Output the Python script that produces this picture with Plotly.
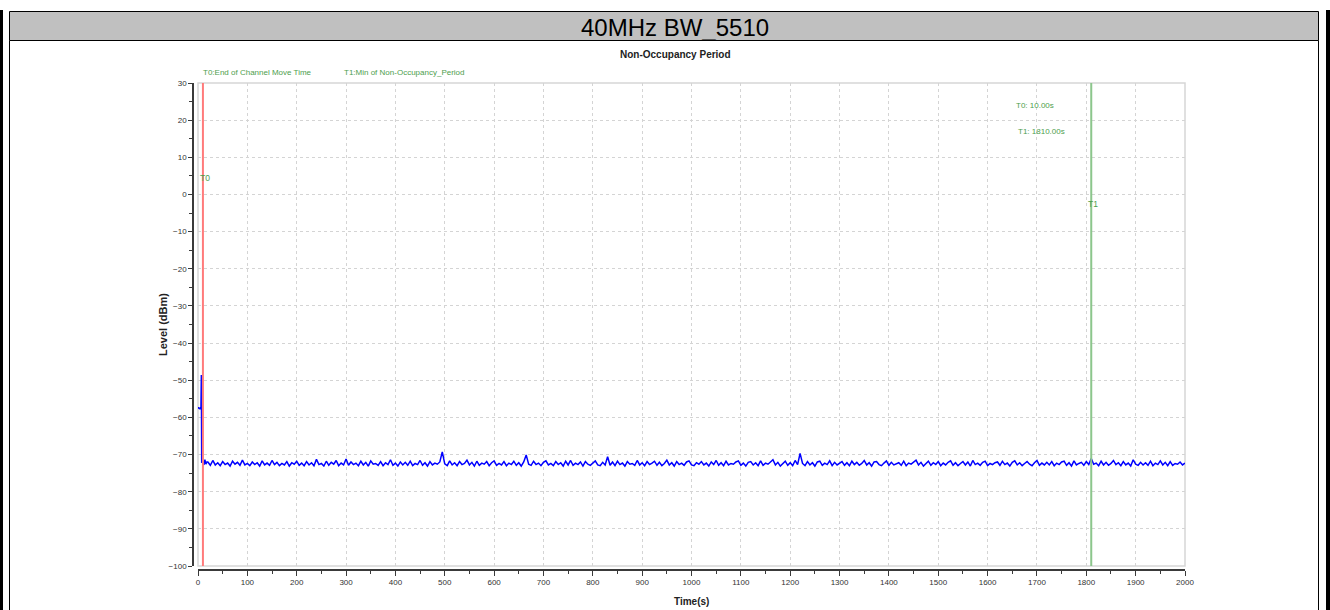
import numpy as np
import plotly.graph_objects as go

# ---------------- data ----------------
lead_t = [0, 1, 2, 3, 4, 5, 6, 6.8, 7.5, 10, 12, 14, 16, 18]
lead_v = [-57.6, -57.3, -57.7, -57.4, -57.8, -57.5, -57.6, -48.6, -72.2, -71.9, -72.8, -71.4, -72.6, -72.0]

noise_start = 20
noise_step = 5
noise_v = [
    -72.0, -72.9, -71.6, -72.8, -72.2, -73.0, -71.9, -72.7, -72.3, -73.1, -71.8, -72.6, -72.1, -72.9, -71.5, -72.8, -72.4, -73.0, -72.0, -72.7,
    -72.2, -73.1, -71.7, -72.8, -72.3, -72.9, -71.6, -72.7, -72.1, -73.0, -72.4, -72.8, -71.9, -73.1, -72.2, -72.6, -71.8, -72.9, -72.3, -73.0,
    -71.9, -72.8, -72.2, -73.0, -71.3, -72.7, -72.4, -73.1, -71.8, -72.9, -72.1, -72.6, -71.6, -73.0, -72.3, -72.8, -71.2, -72.9, -72.0, -72.7,
    -72.3, -73.0, -71.8, -72.8, -72.1, -73.1, -71.7, -72.6, -72.4, -72.9, -71.9, -73.0, -72.2, -72.7, -71.4, -72.9, -72.3, -73.1, -72.0, -72.8,
    -72.1, -72.9, -71.8, -73.0, -72.4, -72.7, -71.6, -72.9, -72.2, -73.1, -71.9, -72.8, -72.3, -72.6, -72.0, -69.3, -72.5, -73.0, -71.7, -72.8,
    -72.2, -73.0, -71.9, -72.7, -72.4, -71.5, -72.8, -72.1, -73.1, -71.8, -72.9, -72.3, -72.6, -71.9, -73.0, -72.2, -71.7, -72.9, -72.4, -72.8,
    -71.9, -73.0, -72.3, -72.7, -71.8, -72.9, -72.2, -73.1, -72.0, -70.1, -72.6, -72.9, -71.8, -72.7, -72.3, -73.0, -72.1, -71.7, -72.8, -72.4,
    -73.0, -71.9, -72.7, -72.2, -73.1, -71.8, -72.8, -71.6, -72.9, -72.3, -72.7, -72.0, -73.1, -71.9, -72.6, -72.9, -72.2, -71.7, -72.8, -73.0,
    -72.1, -72.8, -70.6, -72.9, -72.0, -73.0, -71.8, -72.7, -72.3, -73.1, -71.9, -72.6, -72.4, -72.9, -71.6, -72.8, -72.2, -73.0, -71.9, -72.7,
    -72.3, -71.8, -72.9, -72.1, -73.0, -72.4, -71.5, -72.8, -72.2, -73.1, -71.9, -72.7, -72.3, -72.9, -72.0, -71.7, -72.8, -73.0, -72.2, -72.6,
    -71.9, -72.8, -72.3, -73.1, -72.0, -72.7, -71.6, -72.9, -72.2, -73.0, -71.8, -72.8, -72.4, -72.6, -72.0, -71.7, -72.9, -72.3, -73.1, -72.1,
    -71.9, -72.8, -72.2, -73.0, -71.7, -72.9, -72.3, -72.6, -72.0, -71.4, -72.8, -72.1, -73.1, -72.4, -71.8, -72.9, -72.2, -73.0, -71.6, -72.7,
    -69.7, -72.4, -73.0, -71.9, -72.8, -72.2, -73.1, -72.0, -71.8, -72.9, -72.3, -72.7, -71.7, -73.0, -72.1, -72.8, -72.4, -71.9, -72.9, -72.2,
    -73.0, -71.8, -72.7, -72.1, -72.9, -72.4, -71.6, -72.8, -72.2, -73.1, -72.0, -71.9, -72.7, -73.0, -72.3, -71.7, -72.9, -72.1, -72.8, -72.4,
    -72.2, -72.9, -71.8, -73.0, -72.3, -72.6, -72.0, -71.5, -72.8, -72.1, -73.1, -72.4, -71.8, -72.9, -72.2, -72.7, -71.9, -73.0, -72.3, -72.8,
    -72.1, -71.7, -72.9, -72.2, -73.0, -72.4, -71.9, -72.8, -72.0, -73.1, -71.6, -72.7, -72.3, -72.9, -72.1, -71.8, -73.0, -72.4, -72.7, -72.2,
    -72.0, -72.9, -71.8, -72.7, -72.3, -73.1, -72.1, -71.7, -72.8, -72.2, -73.0, -72.4, -71.9, -72.6, -73.0, -72.2, -71.6, -72.9, -72.3, -72.8,
    -72.1, -72.8, -71.9, -73.0, -72.3, -72.7, -72.0, -71.8, -72.9, -72.2, -73.1, -71.7, -72.8, -72.4, -72.1, -72.9, -71.9, -72.7, -71.1, -72.6,
    -72.3, -73.0, -71.8, -72.8, -72.1, -72.9, -72.4, -71.6, -72.7, -72.2, -73.0, -71.9, -72.8, -72.3, -73.1, -71.4, -72.6, -72.9, -72.1, -72.8,
    -72.2, -72.9, -71.8, -73.0, -72.3, -72.7, -71.7, -72.8, -72.1, -73.0, -71.9, -72.9, -72.4, -72.6, -72.0, -72.8, -72.3,
]
noise_t = list(noise_start + noise_step * np.arange(len(noise_v)))

t_all = lead_t + noise_t
v_all = lead_v + noise_v

marker_t0 = 10
marker_t1 = 1810
header_title = "40MHz BW_5510"
chart_title = "Non-Occupancy Period"
x_title = "Time(s)"
y_title = "Level (dBm)"
legend_t0 = "T0:End of Channel Move Time"
legend_t1 = "T1:Min of Non-Occupancy_Period"
readout_t0 = "T0: 10.00s"
readout_t1 = "T1: 1810.00s"

# ---------------- layout geometry ----------------
W, H = 1330, 610
ML, MR, MT, MB = 193, 145, 83, 40
PW = W - ML - MR
PH = H - MT - MB


def px(x):
    return (x - ML) / PW


def py(y):
    return (H - MB - y) / PH


SANS = "Liberation Sans, Arial, sans-serif"
GREEN_TXT = "#4d9e4d"

fig = go.Figure()
fig.add_trace(go.Scatter(x=t_all, y=v_all, mode="lines",
                         line=dict(color="#0000ff", width=1.5), hoverinfo="skip",
                         showlegend=False))

axis_common = dict(
    showline=True, linecolor="#3a3a3a", linewidth=1.5,
    ticks="outside", tickcolor="#3a3a3a", tickwidth=1,
    showgrid=True, gridcolor="#d4d4d4", gridwidth=1, griddash="3px,3px",
    zeroline=False, automargin=False,
    tickfont=dict(family=SANS, size=8, color="#333333"),
)

fig.update_layout(
    template="none",
    width=W, height=H,
    margin=dict(l=ML, r=MR, t=MT, b=MB, pad=0, autoexpand=False),
    paper_bgcolor="white", plot_bgcolor="white",
    showlegend=False,
    xaxis=dict(range=[0, 2000], dtick=100, tick0=0, ticklen=5,
               domain=[5 / PW, 1], anchor="free", position=0,
               minor=dict(dtick=50, ticklen=3, ticks="outside", tickcolor="#3a3a3a", showgrid=False),
               **axis_common),
    yaxis=dict(range=[-100, 30], dtick=10, tick0=0, ticklen=4,
               domain=[4 / PH, 1], anchor="free", position=0,
               minor=dict(dtick=5, ticklen=3, ticks="outside", tickcolor="#3a3a3a", showgrid=False),
               **axis_common),
)

shapes = []
# plot frame
shapes.append(dict(type="rect", xref="x domain", yref="y domain", x0=0, x1=1, y0=0, y1=1,
                   line=dict(color="#d6d6d6", width=1.5), layer="below"))
# marker lines
shapes.append(dict(type="line", xref="x", yref="y", x0=marker_t0, x1=marker_t0, y0=-100, y1=30,
                   line=dict(color="#ff7b7b", width=2)))
shapes.append(dict(type="line", xref="x", yref="y", x0=marker_t1, x1=marker_t1, y0=-100, y1=30,
                   line=dict(color="#8cc68c", width=2)))
# page furniture: header bar and borders
shapes.append(dict(type="rect", xref="paper", yref="paper", x0=px(9.5), x1=px(1318.5), y0=py(40.5), y1=py(11.5),
                   fillcolor="#c0c0c0", line=dict(color="black", width=1), layer="below"))
shapes.append(dict(type="line", xref="paper", yref="paper", x0=px(9.5), x1=px(9.5), y0=py(40.5), y1=py(612),
                   line=dict(color="black", width=1)))
shapes.append(dict(type="line", xref="paper", yref="paper", x0=px(1318.5), x1=px(1318.5), y0=py(40.5), y1=py(612),
                   line=dict(color="black", width=1)))
shapes.append(dict(type="rect", xref="paper", yref="paper", x0=px(0), x1=px(3), y0=py(612), y1=py(10),
                   fillcolor="black", line=dict(width=0)))
shapes.append(dict(type="rect", xref="paper", yref="paper", x0=px(1326), x1=px(1330), y0=py(612), y1=py(10),
                   fillcolor="black", line=dict(width=0)))
fig.update_layout(shapes=shapes)

ann = []
ann.append(dict(text=header_title, xref="paper", yref="paper", x=px(675), y=py(27), yanchor="middle",
                showarrow=False, font=dict(family=SANS, size=24, color="black")))
ann.append(dict(text=chart_title, xref="paper", yref="paper", x=px(675), y=py(54), yanchor="middle",
                showarrow=False, font=dict(family=SANS, size=10, color="#222", weight="bold")))
ann.append(dict(text=x_title, xref="paper", yref="paper", x=px(691.5), y=py(601), yanchor="middle",
                showarrow=False, font=dict(family=SANS, size=10, color="#222", weight="bold")))
ann.append(dict(text=y_title, xref="paper", yref="paper", x=px(163), y=py(325), xanchor="center",
                yanchor="middle", textangle=-90,
                showarrow=False, font=dict(family=SANS, size=11, color="#222", weight="bold")))


def green(text, x, y, size=8):
    return dict(text=text, xref="paper", yref="paper", x=px(x), y=py(y), xanchor="left", yanchor="middle",
                showarrow=False, font=dict(family=SANS, size=size, color=GREEN_TXT))


ann.append(green(legend_t0, 201, 72))
ann.append(green(legend_t1, 342, 72))
ann.append(green(readout_t0, 1014, 106))
ann.append(green(readout_t1, 1016, 131))
ann.append(green("T0", 198, 178, 8.5))
ann.append(green("T1", 1086, 204, 8.5))
fig.update_layout(annotations=ann)

fig.write_html("out.html")
